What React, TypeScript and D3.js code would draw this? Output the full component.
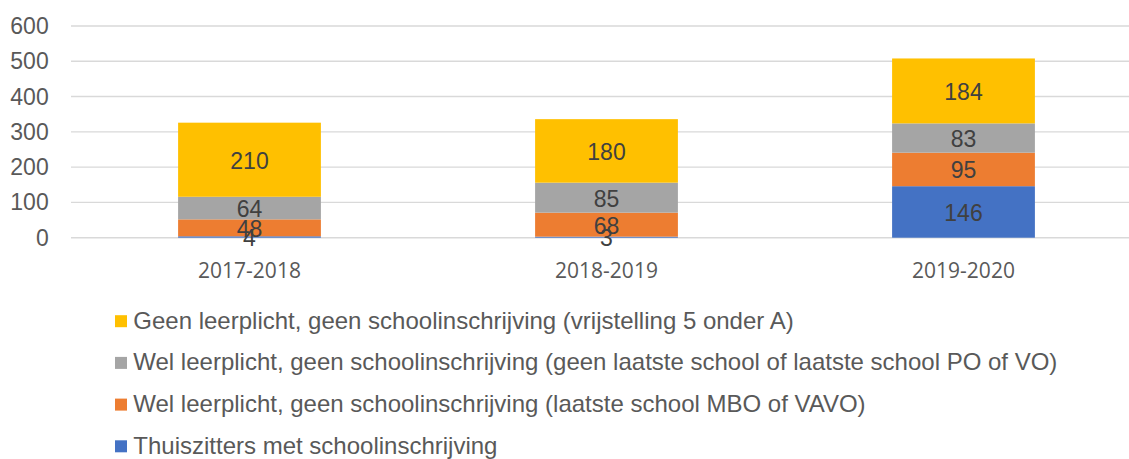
import React from "react";
import * as d3 from "d3";

const categories = ["2017-2018", "2018-2019", "2019-2020"];
const seriesNames = [
  "Thuiszitters met schoolinschrijving",
  "Wel leerplicht, geen schoolinschrijving (laatste school MBO of VAVO)",
  "Wel leerplicht, geen schoolinschrijving (geen laatste school of laatste school PO of VO)",
  "Geen leerplicht, geen schoolinschrijving (vrijstelling 5 onder A)",
];
const seriesColors = ["#4472C4", "#ED7D31", "#A5A5A5", "#FFC000"];
const thuiszitters = [4, 3, 146];
const mboVavo = [48, 68, 95];
const poVo = [64, 85, 83];
const vrijstelling = [210, 180, 184];
const yTicks = [0, 100, 200, 300, 400, 500, 600];

const W = 1129;
const H = 459;
const SANS = "'Liberation Sans', Arial, Helvetica, sans-serif";

export default function App() {
  const values = [thuiszitters, mboVavo, poVo, vrijstelling];
  const rows = categories.map((c, i) => {
    const r: any = { cat: c };
    values.forEach((v, s) => (r["s" + s] = v[i]));
    return r;
  });
  const keys = values.map((_, s) => "s" + s);
  const stacked = d3.stack().keys(keys)(rows);

  const x = d3.scaleBand().domain(categories).range([71, 1142]).paddingInner(0.6).paddingOuter(0.3);
  const y = d3.scaleLinear().domain([0, 600]).range([237.7, 26]);

  const legendOrder = [3, 2, 1, 0];

  return (
    <svg width={W} height={H} style={{ position: "absolute", left: 0, top: 0, background: "#fff" }}>
      {yTicks.map((t) => (
        <g key={t}>
          <line x1={71} x2={1142} y1={y(t)} y2={y(t)} stroke="#d9d9d9" strokeWidth={1.4} />
          <text
            x={48.7}
            y={y(t)}
            textAnchor="end"
            dominantBaseline="central"
            style={{ fontFamily: SANS, fontSize: "23px" }}
            fill="#595959"
          >
            {t}
          </text>
        </g>
      ))}
      {stacked.map((layer, s) => (
        <g key={s}>
          {layer.map((d, i) => (
            <rect
              key={i}
              x={x(categories[i])!}
              width={x.bandwidth()}
              y={y(d[1])}
              height={y(d[0]) - y(d[1])}
              fill={seriesColors[s]}
            />
          ))}
        </g>
      ))}
      {stacked.map((layer, s) => (
        <g key={"l" + s}>
          {layer.map((d, i) => (
            <text
              key={i}
              x={x(categories[i])! + x.bandwidth() / 2}
              y={(y(d[0]) + y(d[1])) / 2 + 1}
              textAnchor="middle"
              dominantBaseline="central"
              style={{ fontFamily: SANS, fontSize: "23px" }}
              fill="#404040"
            >
              {values[s][i]}
            </text>
          ))}
        </g>
      ))}
      {categories.map((c) => (
        <text
          key={c}
          x={x(c)! + x.bandwidth() / 2}
          y={270}
          textAnchor="middle"
          dominantBaseline="central"
          style={{ fontFamily: "'Open Sans', sans-serif", fontSize: "21px" }}
          fill="#595959"
        >
          {c}
        </text>
      ))}
      {legendOrder.map((s, k) => {
        const base = 328.7 + k * 41.7;
        return (
          <g key={"lg" + s}>
            <rect x={115} y={base - 13.5} width={12} height={12} fill={seriesColors[s]} />
            <text x={133.3} y={base} style={{ fontFamily: SANS, fontSize: "24px" }} fill="#595959">
              {seriesNames[s]}
            </text>
          </g>
        );
      })}
    </svg>
  );
}
